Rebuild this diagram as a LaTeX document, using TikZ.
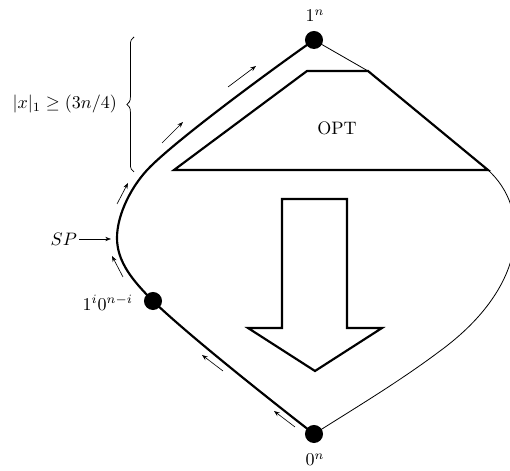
\documentclass[tikz,border=0pt]{standalone}
\usetikzlibrary{arrows.meta,decorations.pathreplacing}
\begin{document}
\begin{tikzpicture}[x=0.555pt,y=-0.555pt,
  dot/.style={circle,fill=black,inner sep=0pt,minimum size=10pt},
  heavy/.style={line width=1.2pt,line join=miter},
  light/.style={line width=0.45pt},
  flow/.style={line width=0.35pt,-{Stealth[length=3.2pt,width=2.4pt]}},
  lbl/.style={inner sep=1pt}]
\useasboundingbox (0,0) rectangle (510,471);
% key points
\coordinate (T) at (314,40);
\coordinate (M) at (153,301);
\coordinate (B) at (314,434);
\coordinate (R) at (368,71);
\coordinate (E) at (488,170);
\coordinate (L) at (117,238);
\coordinate (U) at (150,167);
% left thick path
\draw[heavy] (B) .. controls (260,392) and (185,332) .. (M)
  .. controls (133,281) and (117,262) .. (L)
  .. controls (117,214) and (132,185) .. (U)
  .. controls (180,137) and (274,68) .. (T);
% right thin path
\draw[light] (T) -- (R) -- (E)
  .. controls (530,208) and (530,285) .. (440,351)
  .. controls (400,381) and (360,405) .. (B);
% OPT region
\draw[heavy] (174,170) -- (307,71) -- (R) -- (E) -- cycle;
\node[lbl] (opt) at (337,128) {OPT};
% big arrow
\draw[heavy] (282,199) -- (347,199) -- (347,328) -- (382,328) -- (315,371) -- (248,328) -- (282,328) -- cycle;
% dots
\node[dot] (top) at (T) {};
\node[dot] (mid) at (M) {};
\node[dot] (bot) at (B) {};
% labels
\node[lbl] (toplbl) at (315,16) {$1^n$};
\node[lbl] (botlbl) at (315,460) {$0^n$};
\node[lbl,anchor=east] (midlbl) at (135,303) {$1^i0^{n-i}$};
\node[lbl,anchor=east] (sp) at (79,239) {$SP$};
\coordinate (spend) at (111,239);
\draw[flow] (sp) -- (spend);
% brace
\draw[line width=0.4pt,decorate,decoration={brace,amplitude=4pt}] (134,172) -- (134,37);
\node[lbl,anchor=east] (cond) at (119,104) {$|x|_1 \geq (3n/4)$};
% small flow arrows
\draw[flow] (223,371) -- (202,355);
\draw[flow] (295,427) -- (274,411);
\draw[flow] (123,277) -- (112,256);
\draw[flow] (117,204) -- (128,183);
\draw[flow] (162,143) -- (183,122);
\draw[flow] (228,87) -- (256,66);
\end{tikzpicture}
\end{document}
